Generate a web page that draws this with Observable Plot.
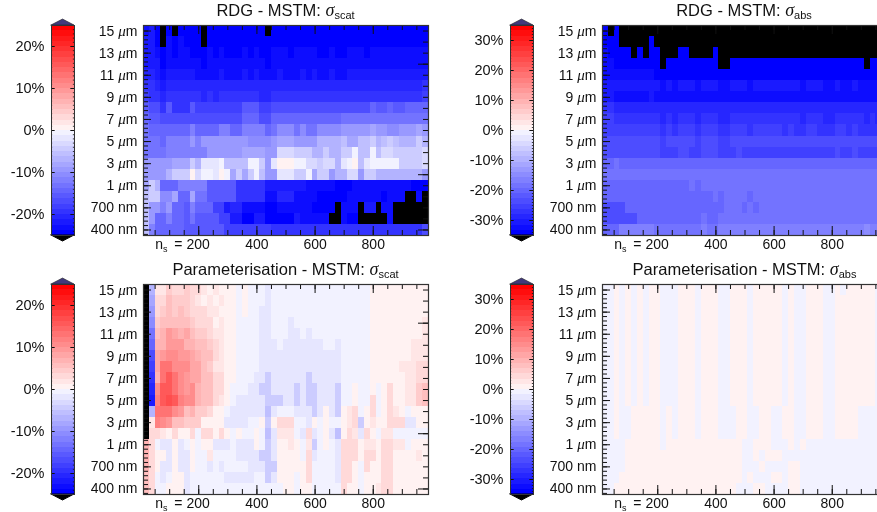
<!DOCTYPE html>
<html><head><meta charset="utf-8">
<script src="https://cdn.jsdelivr.net/npm/d3@7"></script>
<script src="https://cdn.jsdelivr.net/npm/@observablehq/plot@0.6"></script>
<style>
html,body{margin:0;padding:0;background:#fff}
#page{position:relative;width:877px;height:512px;overflow:hidden;font-family:"Liberation Sans",sans-serif;color:#111;filter:blur(.3px)}
.box{position:absolute}
.title{position:absolute;transform:translateX(-50%);white-space:nowrap;font-size:16.5px;line-height:18px}
.title i{font-family:"Liberation Serif",serif;font-size:18px}
.title sub{font-size:11px;vertical-align:-3px;line-height:0}
</style></head><body><div id="page"></div>
<script>
// Column centres are n_s = 20 ... 980, rows run 15 um (top) to 400 nm (bottom).
// Every row is a list of [percent, number of columns] pairs.
const yLabels = ["15 μm","13 μm","11 μm","9 μm","7 μm","5 μm","3 μm","1 μm","700 nm","400 nm"];
const xTickValues = [200,400,600,800];
const scatLimit = 25, absLimit = 35;
const scatPercentTicks = [20,10,0,-10,-20];
const absPercentTicks = [30,20,10,0,-10,-20,-30];

const rdgScatRows = [
[-23,1,-22,1,-24,1,-26,1,-24,1,-26,1,-24,4,-26,1,-24,10,-26,1,-24,27],
[-22,2,-24,1,-26,1,-23,1,-24,1,-23,1,-24,3,-26,1,-24,38],
[-22,2,-23,1,-24,1,-23,1,-24,1,-23,2,-24,3,-23,1,-24,1,-23,1,-24,3,-23,1,-24,1,-23,1,-24,2,-23,3,-24,1,-23,4,-24,2,-23,1,-24,2,-23,3,-24,1,-23,10],
[-22,3,-24,1,-23,6,-24,1,-23,10,-24,1,-23,27],
[-21,2,-22,1,-23,1,-22,5,-23,4,-22,1,-23,3,-22,1,-23,1,-22,1,-23,3,-22,1,-23,3,-22,1,-23,1,-22,1,-23,2,-22,1,-23,2,-22,14],
[-20,2,-21,1,-22,1,-21,44,-19,1],
[-18,1,-19,2,-21,1,-19,6,-21,1,-20,1,-21,1,-19,2,-20,2,-19,3,-21,2,-19,26,-18,1],
[-16,1,-17,2,-19,1,-16,1,-19,3,-16,1,-18,8,-16,3,-18,2,-17,17,-15,1,-16,2,-15,1,-16,2,-15,4],
[-15,1,-16,2,-17,14,-15,3,-17,2,-15,12,-13,15],
[-13,1,-14,7,-12,1,-14,4,-12,2,-14,2,-12,4,-15,1,-13,1,-11,3,-13,1,-11,1,-13,2,-11,4,-10,4,-9,1,-8,1,-10,2,-11,2,-10,3,-8,1,-10,1],
[-13,3,-14,1,-12,4,-10,1,-12,1,-10,8,-11,4,-9,1,-8,3,-9,3,-10,1,-7,4,-6,1,-8,2,-6,2,-4,1,-7,1,-6,1,-4,1,-6,1,-7,3,-4,1,-7,1],
[-13,4,-12,7,-9,6,-8,4,-10,2,-3,3,-5,3,-7,2,-5,1,-7,2,-4,2,-1,1,-6,2,-1,1,-6,1,-3,2,-5,5,-3,1],
[-10,5,-8,3,-5,1,-7,1,-2,3,-1,1,-6,4,-1,2,-5,1,-9,1,-2,1,1,3,-1,2,-3,2,-4,1,-3,2,-7,1,-2,1,-1,1,1,1,-6,1,-2,1,-1,5,-5,4,-3,1],
[-10,4,-7,1,-5,2,-4,1,1,1,-3,1,-1,2,-2,1,1,1,-1,1,-8,1,-4,1,-8,1,-4,1,-1,1,-6,1,-10,2,-2,3,-5,2,-1,1,-8,1,-5,2,-10,1,-7,2,-3,2,-9,1,-5,2,-7,8,-9,1],
[-8,1,-5,1,-7,1,-14,3,-12,5,-16,5,-20,5,-22,7,-23,5,-24,3,-23,10,-24,3],
[-6,1,-5,2,-11,2,-8,1,-14,2,-8,1,-13,2,-16,5,-20,5,-23,2,-21,3,-23,4,-24,5,-23,6,-24,1,-23,3,-26,2,-23,1,-26,1],
[-6,1,-9,2,-12,1,-9,1,-14,2,-16,1,-12,1,-15,3,-18,2,-22,1,-21,2,-23,4,-24,2,-23,6,-24,4,-26,1,-23,3,-26,1,-22,2,-26,1,-23,2,-26,6],
[-6,1,-9,1,-15,2,-12,1,-14,2,-16,1,-13,1,-16,4,-18,2,-22,2,-24,2,-22,2,-24,5,-22,1,-23,5,-26,2,-23,1,-24,2,-26,5,-23,1,-26,6],
[-6,1,-12,1,-14,5,-16,7,-18,8,-19,17,-20,9,-17,1]
];

const rdgAbsRows = [
[-34,1,-36,1,-34,1,-36,46],
[-34,3,-36,5,-34,1,-36,40],
[-33,1,-34,4,-36,1,-34,1,-36,1,-34,2,-36,3,-34,2,-36,4,-34,1,-36,29],
[-32,1,-33,1,-34,8,-36,1,-34,9,-36,2,-34,23,-36,1,-34,3],
[-32,2,-33,6,-32,1,-34,40],
[-30,2,-31,8,-33,1,-31,1,-33,1,-31,3,-33,1,-31,3,-33,2,-31,3,-33,1,-31,8,-33,1,-31,3,-33,2,-31,1,-33,2,-31,1,-33,5],
[-31,2,-33,6,-31,1,-33,40],
[-28,2,-29,47],
[-26,2,-28,8,-29,1,-28,1,-29,1,-28,3,-29,1,-28,3,-29,2,-28,12,-29,1,-28,3,-29,2,-28,5,-29,1,-28,1,-29,2],
[-25,2,-26,8,-28,1,-26,1,-28,1,-26,3,-28,1,-26,3,-28,2,-26,3,-28,1,-26,5,-28,1,-26,1,-28,2,-26,2,-28,3,-26,2,-28,1,-26,1,-28,5],
[-24,10,-26,1,-24,5,-26,1,-24,3,-26,2,-24,27],
[-24,10,-26,3,-24,2,-26,2,-24,3,-26,3,-24,1,-26,16,-24,1,-26,2,-24,1,-26,5],
[-21,2,-18,1,-21,46],
[-18,49],
[-21,15,-19,1,-21,1,-19,32],
[-21,19,-19,1,-21,1,-19,4,-21,1,-19,23],
[-23,4,-21,17,-19,3,-21,1,-19,1,-21,1,-19,22],
[-23,6,-21,11,-18,1,-21,2,-19,29],
[-21,3,-17,6,-19,8,-16,1,-19,2,-17,25,-15,1,-17,3]
];

const paramScatRows = [
[-26,1,-7,1,2,2,4,1,3,2,4,1,3,2,2,1,1,1,2,1,1,3,-1,1,1,1,-1,3,-2,1,-1,17,1,10],
[-26,1,-8,1,3,2,5,1,4,3,3,1,2,1,1,1,2,1,1,1,2,1,1,2,-1,1,1,1,-1,3,-2,1,-1,17,1,10],
[-26,1,-10,1,3,1,4,1,6,1,4,1,6,1,4,1,3,3,2,2,1,3,-1,1,1,1,-1,2,-2,2,-1,17,1,10],
[-26,1,-11,1,4,1,5,1,6,1,5,1,6,1,5,1,4,1,3,3,1,1,2,1,1,2,-1,4,-2,2,-1,3,-2,1,-1,13,1,9,2,1],
[-26,1,-13,1,6,1,7,1,9,1,8,1,7,1,8,1,6,1,4,2,3,1,2,2,1,2,-1,4,-2,2,-1,3,-2,2,-1,1,-2,1,-1,10,1,9,2,1],
[-26,1,-15,1,7,2,9,3,7,2,6,2,4,1,3,1,2,1,1,2,-1,4,-2,3,-1,1,-2,7,-1,2,-2,1,-1,5,1,7,2,3],
[-26,1,-17,1,8,1,9,1,11,1,10,1,9,2,8,1,7,1,5,2,3,1,2,1,1,2,-1,4,-2,14,-1,5,1,7,2,3],
[-26,1,-18,1,8,1,13,2,11,1,10,2,8,2,5,1,4,1,2,2,1,2,-1,4,-2,14,-1,5,1,5,2,3,3,2],
[-26,1,-20,1,7,1,13,1,15,1,13,1,11,1,9,1,8,2,5,2,3,2,1,2,-1,3,-2,2,-4,1,-2,6,-4,1,-2,5,-1,5,1,6,2,2,3,2],
[-26,1,-21,1,10,1,15,1,16,1,13,1,11,1,9,1,10,1,7,1,5,2,3,2,1,1,-1,3,-2,2,-4,2,-2,4,-4,1,-2,1,-4,2,-2,3,-4,1,-1,2,1,1,-1,2,1,1,-1,1,1,1,3,1,1,2,2,2,4,1,5,1],
[-26,1,-22,1,12,1,16,1,17,1,15,1,12,1,10,1,11,1,7,1,6,1,5,1,3,1,2,1,1,1,-1,1,-2,5,-4,3,-2,2,-4,1,-2,1,-4,2,-2,3,-4,1,-1,2,1,1,-1,2,3,1,-1,1,1,1,3,1,1,2,2,2,4,1,5,1],
[-26,1,-7,1,13,3,10,1,9,1,6,1,7,1,4,2,3,1,1,2,-1,1,-2,6,-6,1,-2,1,-1,3,-2,3,-4,1,-2,1,1,1,-2,1,-4,1,1,1,2,1,3,1,-1,1,1,1,3,1,-1,1,1,1,3,1,2,1,1,1,-1,1,1,3],
[-26,1,2,1,12,1,10,1,9,1,6,1,5,1,4,3,1,4,-2,4,-1,2,1,1,-4,1,1,1,3,1,3,2,-1,2,-2,1,1,1,-1,1,1,1,-1,2,1,1,2,1,3,1,-4,1,1,1,2,1,1,2,3,2,3,1,-2,2,1,2],
[-26,1,3,1,3,1,2,1,1,1,3,1,1,2,3,1,-1,1,3,2,1,1,3,1,1,1,-1,1,1,1,-1,2,1,1,-1,1,-6,1,-2,1,2,1,2,2,-1,1,-2,1,3,1,-2,1,-1,1,1,1,-2,1,-6,1,1,1,3,1,2,1,-2,1,3,1,1,1,-1,1,2,2,-1,6],
[7,1,3,1,-1,1,-2,2,1,1,-2,1,-1,1,1,1,-1,1,1,2,-2,3,-1,1,-2,3,1,1,-1,1,-5,1,-2,1,1,2,2,1,1,1,-1,1,2,1,-5,1,-1,1,1,1,-1,1,-2,1,3,3,1,1,2,2,1,1,3,2,2,2,-1,1,1,3],
[7,1,3,1,1,2,-2,1,1,1,-2,2,1,1,-1,2,2,1,-1,4,-2,1,-2,3,-4,2,-2,1,1,4,-1,1,3,1,-2,1,-1,3,-2,1,3,3,1,1,3,2,1,1,3,2,1,4,2,1,1,1],
[7,1,3,1,1,1,-2,2,1,1,-2,2,1,1,-1,2,-2,1,-1,1,-2,1,-1,4,-2,3,-4,2,1,5,3,1,-1,4,-2,1,3,2,1,1,-1,1,3,1,1,2,3,2,1,6],
[6,1,3,1,-1,1,-2,1,-1,1,1,2,-2,1,-1,6,-2,5,-1,2,-4,1,-2,1,1,3,-1,1,1,1,3,1,-1,4,-2,1,3,2,1,1,-1,1,1,3,3,2,1,6],
[5,1,3,1,-1,2,1,3,-2,1,-1,16,1,2,-1,1,1,2,-1,5,3,1,1,2,-1,1,1,2,2,1,3,2,1,6]
];

const absTop = [-1,2,1,1,-1,1,1,1,-1,1,1,1,-1,1,1,2,-1,3,1,3,-1,1,1,3,-1,2,1,3,-1,1,1,5,-1,1,1,1,-1,2,1,3,-1,2,1,1,-1,1,1,5,-1,2];
const absUpper = [-1,2,1,1,-1,1,1,1,-1,1,1,1,-1,1,1,2,-1,3,1,3,-1,1,1,3,-1,2,1,3,-1,1,1,5,-1,1,1,1,-1,2,1,3,-1,2,1,7,-1,2];
const absMiddle = [-1,2,1,1,-1,2,1,5,-1,1,1,1,-1,1,1,3,-1,1,1,3,-1,3,1,2,-1,2,1,2,-1,2,1,2,-1,2,1,3,-1,2,1,4,-1,5];
const paramAbsRows = [
absTop,absUpper,absUpper,absUpper,absUpper,absUpper,absUpper,absUpper,absUpper,absUpper,absUpper,
absMiddle,absMiddle,absMiddle,
[-1,4,1,6,-1,1,1,13,-1,2,1,3,-1,3,1,1,-1,1,1,1,-1,14],
[-1,4,1,20,-1,2,1,1,-1,1,1,3,-1,18],
[-1,4,1,20,-1,3,1,1,-1,4,1,2,-1,15],
[-1,3,1,21,-1,1,1,1,-1,3,1,2,-1,1,1,2,-1,15],
[-1,2,1,21,-1,3,1,2,-1,4,1,2,-1,15]
];

const BANDS = 20;
const bandColors = [
  ...d3.range(BANDS,0,-1).map(k => d3.rgb(d3.interpolateRgb("white","blue")(k/BANDS)).formatHex()),
  ...d3.range(1,BANDS+1).map(k => d3.rgb(d3.interpolateRgb("white","red")(k/BANDS)).formatHex())
];
const UNDER = "#000000", OVER = "#41397c", AXIS = "#111";

function colorScale(limit){
  return {type:"threshold",
    domain:d3.range(0,2*BANDS+1).map(i=>-limit+i*limit/BANDS),
    range:[UNDER,...bandColors,OVER]};
}
function cells(rows){
  const out=[];
  rows.forEach((runs,row)=>{
    let col=0;
    for(let i=0;i<runs.length;i+=2){
      for(let n=0;n<runs[i+1];n++,col++) out.push({row,col,v:runs[i]});
    }
  });
  return out;
}
function colorbar(limit,ticks,left,top){
  const edges=d3.range(0,2*BANDS).map(i=>({lo:-limit+i*limit/BANDS,hi:-limit+(i+1)*limit/BANDS}));
  const cap=limit*6/105;
  const minor=d3.range(-limit,limit+.01,1);
  const plot=Plot.plot({
    width:80,height:230,marginLeft:51,marginRight:6,marginTop:10,marginBottom:10,
    style:{fontFamily:"Liberation Sans",fontSize:"14.5px",color:"#111",background:"transparent"},
    x:{domain:[0,1],axis:null},
    y:{domain:[-limit,limit],label:null},
    color:colorScale(limit),
    marks:[
      Plot.rect(edges,{x1:0,x2:1,y1:"lo",y2:"hi",fill:d=>(d.lo+d.hi)/2,shapeRendering:"crispEdges"}),
      Plot.areaY([0,.5,1],{x:d=>d,y1:limit,y2:d=>limit+(d===.5?cap:0),fill:OVER,stroke:"#222",strokeWidth:.6}),
      Plot.areaY([0,.5,1],{x:d=>d,y1:-limit,y2:d=>-limit-(d===.5?cap:0),fill:UNDER,stroke:"#000"}),
      Plot.ruleY(minor,{x1:0,x2:.05,stroke:AXIS,strokeWidth:.8}),
      Plot.ruleY(minor,{x1:.95,x2:1,stroke:AXIS,strokeWidth:.8}),
      Plot.ruleY(ticks,{x1:0,x2:.16,stroke:AXIS}),
      Plot.ruleY(ticks,{x1:.84,x2:1,stroke:AXIS}),
      Plot.axisY({ticks,tickSize:0,tickPadding:7,label:null,tickFormat:d=>d+"%"}),
      Plot.frame({stroke:"#333",strokeWidth:1})
    ]
  });
  return place(plot,left,top-10,80);
}
function heat(rows,limit,plotX,plotY){
  const X0=10,X1=990,bottom=18.5,topRow=-.5;
  const majorX=xTickValues, minorX=d3.range(50,990,50);
  const unitX=(X1-X0)/285, unitY=19/210;
  const leftMajor=d3.range(0,19,2), leftMinor=d3.range(0,18.5,.4);
  const rightMinor=d3.range(0,19), rightMajor=[3,13,18];
  const plot=Plot.plot({
    width:347,height:234,marginLeft:60,marginRight:2,marginTop:2,marginBottom:22,
    style:{fontFamily:"Liberation Sans",fontSize:"14px",color:"#111",background:"transparent"},
    x:{domain:[X0,X1],label:null},
    y:{domain:[bottom,topRow],label:null},
    color:colorScale(limit),
    marks:[
      Plot.rect(cells(rows),{x1:d=>X0+d.col*20,x2:d=>X0+(d.col+1)*20,y1:d=>d.row-.5,y2:d=>d.row+.5,fill:"v",shapeRendering:"crispEdges"}),
      Plot.ruleX(minorX,{y1:bottom,y2:bottom-5*unitY,stroke:AXIS}),
      Plot.ruleX(majorX,{y1:bottom,y2:bottom-9*unitY,stroke:AXIS}),
      Plot.ruleX(minorX,{y1:topRow,y2:topRow+5*unitY,stroke:AXIS}),
      Plot.ruleX(majorX,{y1:topRow,y2:topRow+9*unitY,stroke:AXIS}),
      Plot.ruleY(leftMinor,{x1:X0,x2:X0+5*unitX,stroke:AXIS}),
      Plot.ruleY(leftMajor,{x1:X0,x2:X0+8*unitX,stroke:AXIS}),
      Plot.ruleY(rightMinor,{x1:X1,x2:X1-5*unitX,stroke:AXIS}),
      Plot.ruleY(rightMajor,{x1:X1,x2:X1-10*unitX,stroke:AXIS}),
      Plot.axisY({ticks:leftMajor,tickSize:0,tickPadding:6,label:null,tickFormat:d=>yLabels[d/2]}),
      Plot.axisX({ticks:majorX,tickSize:0,tickPadding:4,label:null,tickFormat:d=>String(d)}),
      Plot.frame({stroke:"#333",strokeWidth:1.2})
    ]
  });
  for(const t of plot.querySelectorAll("text")){
    const s=t.textContent;
    if(s.includes("μ")){
      const [a,b]=s.split("μ");
      t.innerHTML=`${a}<tspan font-family="Liberation Serif" font-style="italic" font-size="15">μ</tspan>${b}`;
    }
    if(s==="200"){
      t.setAttribute("text-anchor","end");
      t.setAttribute("dx","11");
      t.innerHTML=`n<tspan font-size="9" dy="3">s</tspan><tspan dy="-3" dx="3"> = 200</tspan>`;
    }
  }
  return place(plot,plotX-60,plotY-2,347);
}
function place(node,left,top,width){
  const box=document.createElement("div");
  box.className="box";
  box.style.cssText=`left:${left}px;top:${top}px;width:${width}px`;
  box.appendChild(node);
  document.getElementById("page").appendChild(box);
}
function title(label,sub,cx,top){
  const d=document.createElement("div");
  d.className="title";
  d.style.left=cx+"px";d.style.top=top+"px";
  d.innerHTML=`${label}: <i>σ</i><sub>${sub}</sub>`;
  document.getElementById("page").appendChild(d);
}

const panels=[
 {rows:rdgScatRows,limit:scatLimit,ticks:scatPercentTicks,off:0,x:143,y:25,t:"RDG - MSTM",s:"scat",cx:285.5,ty:1},
 {rows:rdgAbsRows,limit:absLimit,ticks:absPercentTicks,off:459,x:602,y:25,t:"RDG - MSTM",s:"abs",cx:744,ty:1},
 {rows:paramScatRows,limit:scatLimit,ticks:scatPercentTicks,off:0,x:143,y:283.5,t:"Parameterisation - MSTM",s:"scat",cx:285.5,ty:260},
 {rows:paramAbsRows,limit:absLimit,ticks:absPercentTicks,off:459,x:602,y:283.5,t:"Parameterisation - MSTM",s:"abs",cx:744.5,ty:260}
];
for(const p of panels){
  colorbar(p.limit,p.ticks,p.off,p.y);
  heat(p.rows,p.limit,p.x,p.y);
  title(p.t,p.s,p.cx,p.ty);
}
</script></body></html>
